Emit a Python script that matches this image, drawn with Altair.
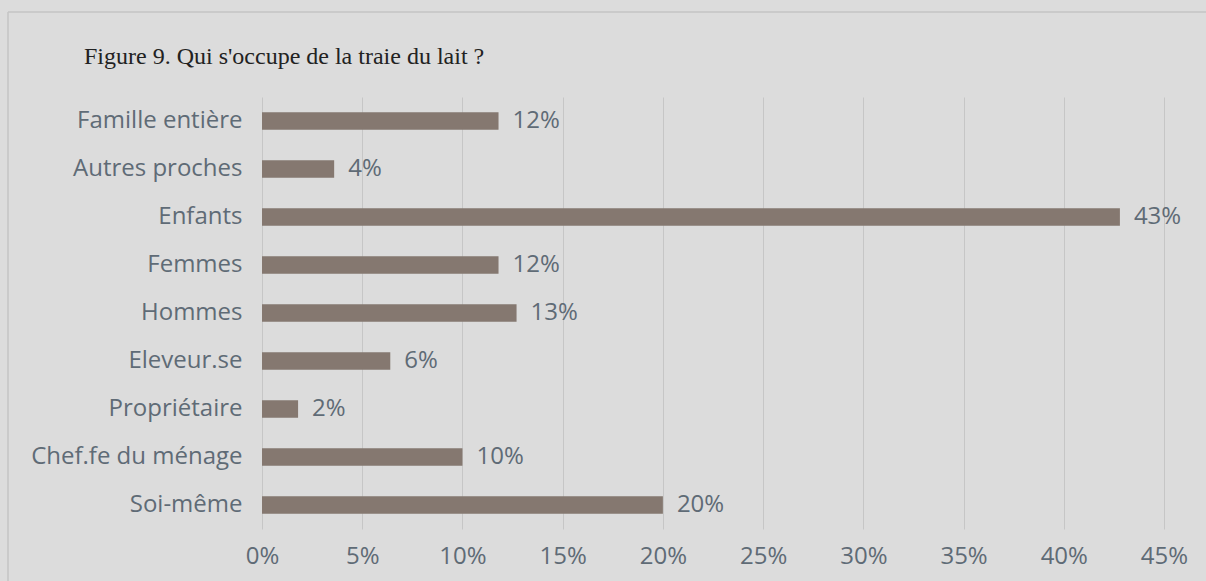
import altair as alt
import pandas as pd

categories = ["Famille entière", "Autres proches", "Enfants", "Femmes", "Hommes",
              "Eleveur.se", "Propriétaire", "Chef.fe du ménage", "Soi-même"]
values = [11.8, 3.6, 42.8, 11.8, 12.7, 6.4, 1.8, 10.0, 20.0]
labels = ["12%", "4%", "43%", "12%", "13%", "6%", "2%", "10%", "20%"]
title_text = "Figure 9. Qui s'occupe de la traie du lait ?"

df = pd.DataFrame({"cat": categories, "val": [v / 100 for v in values], "lab": labels})
tdf = pd.DataFrame({"t": [title_text]})

FONT = "Open Sans"
FS = 24
GREY = "#5f6b76"

y = alt.Y("cat:N", sort=categories, title=None,
          scale=alt.Scale(paddingInner=0.64, paddingOuter=0.32),
          axis=alt.Axis(domain=False, ticks=False, grid=False, labelFontSize=FS,
                        labelColor=GREY, labelFont=FONT,
                        labelPadding=20, labelLimit=300))
x = alt.X("val:Q", title=None,
          scale=alt.Scale(domain=[0, 0.45], nice=False),
          axis=alt.Axis(format=".0%", values=[i * 0.05 for i in range(10)],
                        domain=False, ticks=False, grid=True, gridColor="#c6c6c6",
                        labelFontSize=FS, labelColor=GREY, labelFont=FONT,
                        labelFlush=False, labelPadding=15))

bars = alt.Chart(df).mark_bar(color="#857870").encode(x=x, y=y)
text = alt.Chart(df).mark_text(align="left", dx=14, fontSize=FS, color=GREY,
                               font=FONT).encode(x="val:Q", y=alt.Y("cat:N", sort=categories), text="lab:N")

frame_v = alt.Chart(tdf).mark_rule(color="#c4c4c4", strokeWidth=1.5).encode(
    x=alt.value(-254), y=alt.value(-85), y2=alt.value(500))
frame_h = alt.Chart(tdf).mark_rule(color="#c4c4c4", strokeWidth=1.5).encode(
    x=alt.value(-254), x2=alt.value(960), y=alt.value(-85))

title = alt.Chart(tdf).mark_text(align="left", baseline="alphabetic", font="Liberation Serif",
                                 fontSize=24, color="#222222").encode(
    x=alt.value(-178), y=alt.value(-33), text="t:N")

chart = (frame_v + frame_h + bars + text + title).properties(
    width=902, height=432,
    background="#dcdcdc",
    padding={"left": 262, "top": 97, "right": 42, "bottom": 52},
    autosize=alt.AutoSizeParams(type="none"),
).configure_view(stroke=None)

chart.save("out.html", embed_options={"renderer": "svg", "actions": False})
